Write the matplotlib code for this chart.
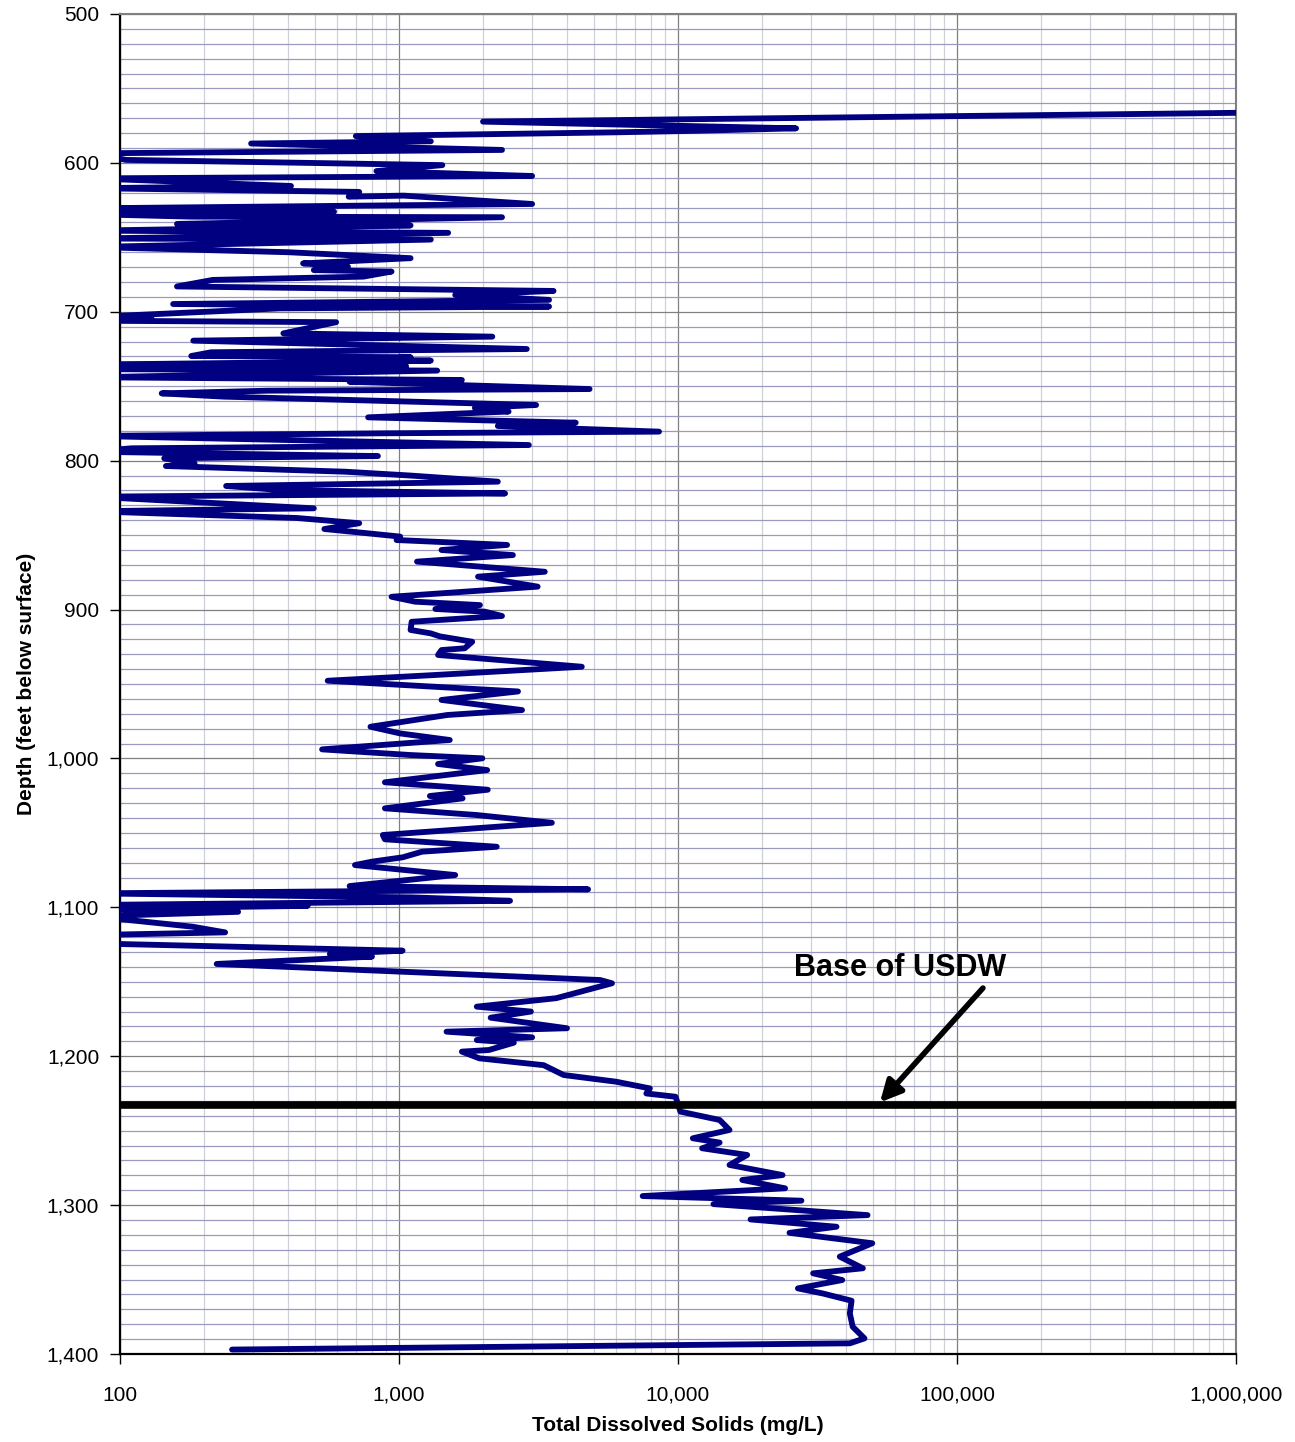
import matplotlib
matplotlib.use("Agg")
import matplotlib.pyplot as plt
from matplotlib.ticker import FixedLocator, MultipleLocator, FuncFormatter, LogLocator, NullFormatter

plt.rcParams['font.family'] = ['Liberation Sans', 'DejaVu Sans']

depth = [566.0, 572.3, 576.8, 578.5, 579.5, 582.0, 585.5, 587.0, 591.3, 593.6,
         598.0, 601.5, 605.5, 608.8, 610.4, 615.5, 617.0, 619.5, 622.7, 622.0,
         627.6, 630.5, 632.8, 634.5, 636.1, 636.5, 638.5, 641.0, 642.0, 645.5,
         647.0, 650.8, 651.5, 656.5, 660.0, 664.0, 667.5, 669.7, 672.0, 673.0,
         676.4, 678.6, 683.0, 686.0, 688.7, 692.0, 694.8, 696.5, 697.7, 703.5,
         705.0, 706.0, 707.0, 714.5, 716.7, 719.4, 725.0, 727.2, 729.7, 730.5,
         732.2, 732.8, 735.5, 736.5, 738.5, 739.5, 744.0, 745.8, 747.0, 751.9,
         753.0, 754.8, 757.0, 762.6, 764.6, 767.0, 770.9, 774.5, 776.7, 780.5,
         781.6, 783.4, 789.5, 791.7, 794.0, 796.9, 798.4, 801.8, 803.6, 807.4,
         810.0, 814.1, 817.0, 819.7, 822.0, 824.2, 832.0, 834.0, 838.5, 842.0,
         845.9, 847.7, 851.0, 853.3, 856.6, 860.0, 863.4, 867.8, 874.6, 877.9,
         884.6, 891.4, 894.7, 897.0, 899.6, 901.4, 904.3, 908.2, 913.7, 916.0,
         918.0, 921.6, 926.0, 927.2, 930.5, 938.4, 944.0, 947.8, 955.0, 960.7,
         967.5, 970.8, 978.7, 983.2, 987.6, 993.9, 997.7, 999.9, 1003.7, 1007.8,
         1016.0, 1021.0, 1025.2, 1026.8, 1033.5, 1038.0, 1043.2, 1051.4, 1054.3, 1059.3,
         1062.6, 1066.4, 1069.3, 1071.6, 1078.3, 1085.7, 1087.9, 1090.6, 1093.3, 1095.6,
         1098.4, 1099.0, 1101.0, 1103.0, 1106.0, 1113.0, 1116.8, 1118.6, 1124.2, 1129.1,
         1131.3, 1133.1, 1138.0, 1148.8, 1151.0, 1161.0, 1166.7, 1170.0, 1174.1, 1181.2,
         1183.5, 1187.3, 1189.1, 1190.9, 1195.8, 1196.9, 1201.4, 1206.0, 1212.6, 1217.1,
         1221.6, 1225.0, 1227.2, 1237.2, 1242.8, 1249.5, 1255.1, 1258.0, 1261.8, 1266.3,
         1273.0, 1279.8, 1283.1, 1288.7, 1293.9, 1297.0, 1299.3, 1306.7, 1309.6, 1314.5,
         1318.6, 1325.6, 1334.6, 1342.4, 1345.8, 1350.3, 1355.9, 1359.3, 1364.2, 1372.7,
         1381.7, 1389.5, 1392.8, 1397.0]
tds = [1500000, 2000, 26500, 11300, 5900, 700, 1300, 295, 2340, 80,
       105, 1430, 830, 3000, 80, 410, 80, 720, 660, 1040,
       3000, 80, 585, 80, 180, 2340, 700, 160, 1100, 80,
       1500, 80, 1300, 80, 400, 1100, 453, 656, 495, 940,
       745, 215, 160, 3580, 1590, 3450, 155, 3450, 375, 80,
       130, 80, 595, 385, 2160, 183, 2870, 212, 180, 1100,
       760, 1300, 80, 1060, 80, 1370, 80, 1680, 665, 4820,
       337, 141, 236, 3100, 1870, 2470, 775, 4300, 2260, 8550,
       900, 80, 2920, 110, 80, 840, 144, 185, 146, 640,
       1100, 2260, 240, 375, 2400, 80, 495, 80, 430, 720,
       540, 677, 1010, 980, 2440, 1420, 2560, 1160, 3330, 1920,
       3140, 940, 1140, 1950, 1350, 2030, 2340, 1110, 1100, 1300,
       1400, 1830, 1720, 1420, 1380, 4520, 1330, 555, 2670, 1420,
       2760, 1490, 790, 1010, 1520, 530, 1100, 1990, 1380, 2070,
       890, 2080, 1290, 1690, 890, 1900, 3530, 875, 890, 2240,
       1210, 1030, 800, 695, 1590, 665, 4760, 80, 1110, 2500,
       80, 470, 80, 265, 80, 182, 238, 80, 80, 1030,
       565, 800, 222, 5260, 5800, 3660, 1900, 2970, 2130, 4000,
       1480, 3000, 1900, 2580, 2100, 1680, 1940, 3300, 3890, 6000,
       7930, 7700, 9800, 10200, 14100, 15300, 11300, 14100, 12200, 17700,
       15300, 23700, 17000, 24200, 7470, 27700, 13400, 47800, 18200, 37000,
       25100, 49700, 38000, 46000, 30500, 38800, 26900, 33000, 41900, 41300,
       42300, 46600, 41300, 252]

usdw_depth = 1233
usdw_label = "Base of USDW"
y_ticks = list(range(500, 1401, 100))
x_ticks = [100, 1000, 10000, 100000, 1000000]

fig = plt.figure(figsize=(12.95, 14.42), dpi=100)
ax = fig.add_axes([0.0927, 0.061, 0.8617, 0.9293])

ax.plot(tds, depth, color='#000080', lw=4.2, solid_capstyle='round', solid_joinstyle='round', zorder=3)
ax.axhline(usdw_depth, color='black', lw=5.5, zorder=4)

ax.set_xscale('log')
ax.set_xlim(100, 1000000)
ax.set_ylim(1400, 500)

ax.xaxis.set_major_locator(FixedLocator(x_ticks))
ax.xaxis.set_minor_locator(LogLocator(base=10, subs=range(2, 10)))
ax.xaxis.set_minor_formatter(NullFormatter())
ax.xaxis.set_major_formatter(FuncFormatter(lambda v, p: f"{int(round(v)):,}"))
ax.yaxis.set_major_locator(FixedLocator(y_ticks))
ax.yaxis.set_minor_locator(MultipleLocator(10))
ax.yaxis.set_major_formatter(FuncFormatter(lambda v, p: f"{int(round(v)):,}"))

ax.grid(which='major', axis='both', color='#808080', lw=0.9, zorder=1)
ax.grid(which='minor', axis='x', color='#d0d0d8', lw=0.9, zorder=0)
ax.grid(which='minor', axis='y', color='#9a9ac0', lw=0.9, zorder=0)
ax.set_axisbelow(True)

ax.tick_params(which='major', direction='out', length=7, width=1, colors='black', labelsize=15)
ax.tick_params(axis='x', which='major', pad=16)
ax.tick_params(axis='y', which='major', pad=8)
ax.tick_params(which='minor', length=0)

for s in ['left', 'bottom']:
    ax.spines[s].set_color('black')
    ax.spines[s].set_linewidth(1.6)
for s in ['top', 'right']:
    ax.spines[s].set_color('#808080')
    ax.spines[s].set_linewidth(1.5)

ax.set_xlabel("Total Dissolved Solids (mg/L)", fontsize=15, fontweight='bold', labelpad=8)
ax.set_ylabel("Depth (feet below surface)", fontsize=15, fontweight='bold', labelpad=8)

ax.text(62500, 1140.7, usdw_label, ha='center', va='center', fontsize=22, fontweight='bold', zorder=5)
ax.annotate("", xy=(52950, 1231), xytext=(123900, 1154.2),
            arrowprops=dict(arrowstyle='-|>', color='black', lw=4, mutation_scale=32,
                            shrinkA=0, shrinkB=0), zorder=5)

fig.savefig("out.png", dpi=100)
